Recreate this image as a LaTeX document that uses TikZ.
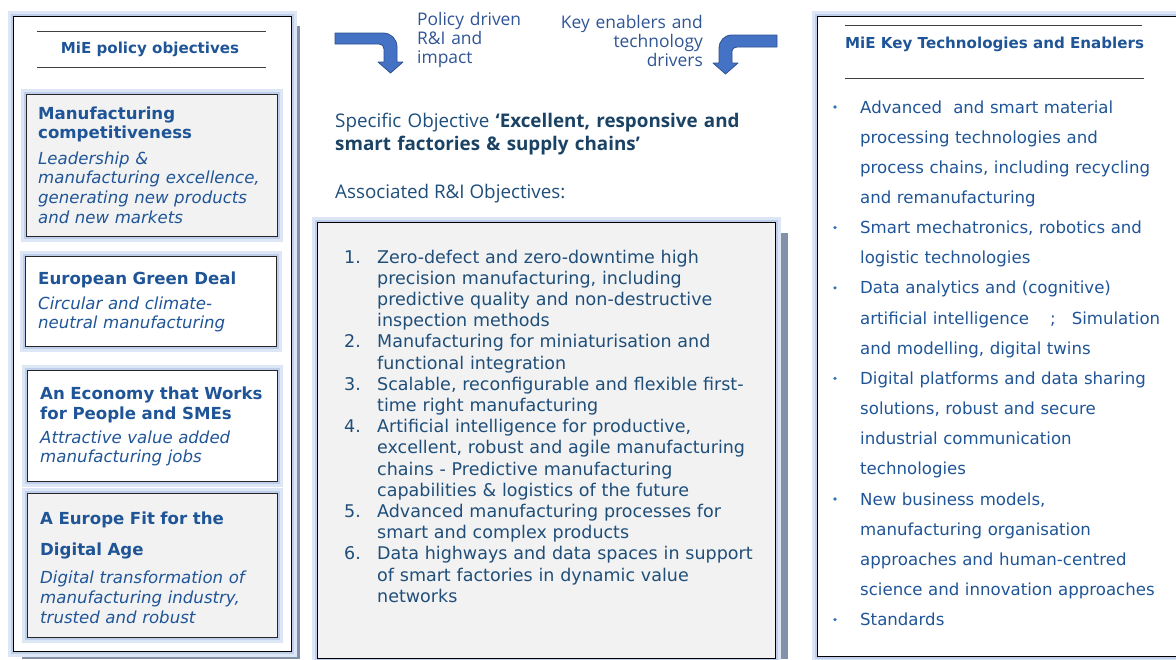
\documentclass[tikz,border=0pt]{standalone}
\usepackage{fontspec}
\setmainfont{DejaVu Sans}
\newfontfamily\segoe{Open Sans}
\definecolor{vblue}{HTML}{1F5597}
\definecolor{cteal}{HTML}{1F4E79}
\definecolor{cbold}{HTML}{1A4264}
\definecolor{lblue}{HTML}{2F5597}
\definecolor{arrfill}{HTML}{4472C4}
\definecolor{arrline}{HTML}{2F528F}
\definecolor{boxgray}{HTML}{F2F2F2}
\definecolor{glowc}{HTML}{B4C7E7}
\definecolor{shadowc}{HTML}{8391A8}
\definecolor{bulletc}{HTML}{2E75B6}
\definecolor{rulec}{HTML}{404040}
\tikzset{
  glow/.style={preaction={draw=glowc!45, line width=11pt}, preaction={draw=glowc!85, line width=5pt}},
  panel/.style={glow, draw=black, line width=1.2pt, fill=white, inner sep=0pt, anchor=north west},
  objbox/.style={glow, draw=black!85, line width=1.1pt, inner sep=0pt, anchor=north west},
  shade/.style={fill=shadowc, draw=none},
  txt/.style={inner sep=0pt, anchor=base west, align=left},
  boxtitle/.style={txt, font=\fontsize{16.6}{19.5}\selectfont\bfseries, text=vblue, text width=245pt},
  boxsub/.style={txt, font=\fontsize{16.6}{19.8}\selectfont\itshape, text=vblue, text width=245pt},
  paneltitle/.style={inner sep=0pt, anchor=base west, font=\fontsize{15.1}{17}\selectfont\bfseries, text=vblue},
  rule/.style={draw=rulec, line width=0.8pt},
  num/.style={inner sep=0pt, anchor=base west, font=\fontsize{17.5}{21.2}\selectfont, text=cteal},
  item/.style={txt, font=\fontsize{17.5}{21.2}\selectfont, text=cteal, text width=420pt},
  ritem/.style={txt, font=\fontsize{16.6}{30.15}\selectfont, text=vblue, text width=330pt},
  bul/.style={circle, fill=bulletc, inner sep=0pt, minimum size=3.6pt},
  arrowshape/.style={fill=arrfill, draw=arrline, line width=0.8pt, line join=round},
  lbl/.style={inner sep=0pt, font=\segoe\fontsize{17.4}{19.2}\selectfont, text=lblue},
}
\begin{document}
\begin{tikzpicture}[x=1pt,y=-1pt]
\useasboundingbox (0,0) rectangle (1176,659);
\clip (0,0) rectangle (1176,659);
\fill[white] (0,0) rectangle (1176,659);

% shadows
\fill[shade] (22,26) rectangle (300,659);
\fill[shade] (327,233) rectangle (788,659);

% panels
\node[panel, minimum width=278pt, minimum height=635pt] (lp) at (13,16) {};
\node[panel, fill=boxgray, minimum width=458pt, minimum height=436pt] (cp) at (317,222) {};
\node[panel, minimum width=380pt, minimum height=640pt] (rp) at (817,16) {};

% left panel title
\coordinate (la1) at (37,31); \coordinate (lb1) at (266,31);
\coordinate (la2) at (37,67); \coordinate (lb2) at (266,67);
\draw[rule] (la1) -- (lb1);
\draw[rule] (la2) -- (lb2);
\node[paneltitle, anchor=base] (lt) at (150,53) {MiE policy objectives};

% left boxes
\node[objbox, fill=boxgray, minimum width=251pt, minimum height=142pt] (b1) at (26,94) {};
\node[boxtitle] (b1t) at (38,119) {Manufacturing\\competitiveness};
\node[boxsub] (b1s) at (38,164) {Leadership \&\\manufacturing excellence,\\generating new products\\and new markets};

\node[objbox, fill=white, minimum width=251pt, minimum height=90pt] (b2) at (25,256) {};
\node[boxtitle] (b2t) at (38,284) {European Green Deal};
\node[boxsub] (b2s) at (38,309) {Circular and climate-\\neutral manufacturing};

\node[objbox, fill=white, minimum width=250pt, minimum height=111pt] (b3) at (27,370) {};
\node[boxtitle, font=\fontsize{16.6}{20}\selectfont\bfseries] (b3t) at (40,399) {An Economy that Works\\for People and SMEs};
\node[boxsub] (b3s) at (40,443) {Attractive value added\\manufacturing jobs};

\node[objbox, fill=boxgray, minimum width=250pt, minimum height=144pt] (b4) at (27,493) {};
\node[boxtitle, font=\fontsize{16.6}{31}\selectfont\bfseries] (b4t) at (40,524) {A Europe Fit for the\\Digital Age};
\node[boxsub, font=\fontsize{16.6}{20}\selectfont\itshape] (b4s) at (40,583) {Digital transformation of\\manufacturing industry,\\trusted and robust};

% arrows
\path[arrowshape] (335,33) -- (383,33) .. controls (391,33) and (397,39) .. (397,47) -- (397,62) -- (403,62) -- (390.5,73) -- (378,62) -- (384,62) -- (384,49) .. controls (384,46) and (382,44) .. (379,44) -- (335,44) -- cycle;
\path[arrowshape] (777,35) -- (732,35) .. controls (724,35) and (719,41) .. (719,49) -- (719,63) -- (713,63) -- (725.5,74) -- (738,63) -- (732,63) -- (732,51) .. controls (732,49) and (734,47) .. (737,47) -- (777,47) -- cycle;
\node[lbl, anchor=base west, align=left, text width=130pt] (al) at (417,25) {Policy driven\\R\&I and\\impact};
\node[lbl, anchor=base east, align=right, text width=160pt] (ar) at (703,28) {Key enablers and\\technology\\drivers};

% centre heading
\node[txt, font=\segoe\fontsize{18.8}{23}\selectfont, text=cteal, text width=440pt] (spec) at (335,127)
  {Specific Objective \textcolor{cbold}{\textbf{‘Excellent, responsive and}}\\\textcolor{cbold}{\textbf{smart factories \& supply chains’}}};
\node[txt, font=\segoe\fontsize{18.8}{23}\selectfont, text=cteal] (assoc) at (335,198) {Associated R\&I Objectives:};

% centre list
\node[num] (n1) at (344,263) {1.};
\node[item] (i1) at (377,263) {Zero-defect and zero-downtime high\\precision manufacturing, including\\predictive quality and non-destructive\\inspection methods};
\node[num] (n2) at (344,347.8) {2.};
\node[item] (i2) at (377,347.8) {Manufacturing for miniaturisation and\\functional integration};
\node[num] (n3) at (344,390.2) {3.};
\node[item] (i3) at (377,390.2) {Scalable, reconfigurable and flexible first-\\time right manufacturing};
\node[num] (n4) at (344,432.6) {4.};
\node[item] (i4) at (377,432.6) {Artificial intelligence for productive,\\excellent, robust and agile manufacturing\\chains - Predictive manufacturing\\capabilities \& logistics of the future};
\node[num] (n5) at (344,517.4) {5.};
\node[item] (i5) at (377,517.4) {Advanced manufacturing processes for\\smart and complex products};
\node[num] (n6) at (344,559.8) {6.};
\node[item] (i6) at (377,559.8) {Data highways and data spaces in support\\of smart factories in dynamic value\\networks};

% right panel title
\coordinate (ra1) at (845,25); \coordinate (rb1c) at (1142,25);
\coordinate (ra2) at (845,78); \coordinate (rb2c) at (1144,78);
\draw[rule] (ra1) -- (rb1c);
\draw[rule] (ra2) -- (rb2c);
\node[paneltitle] (rt) at (845,48) {MiE Key Technologies and Enablers};

% right list
\node[bul] (r1b) at (835,107) {};
\node[ritem] (r1) at (860,113) {Advanced\ \ and smart material\\processing technologies and\\process chains, including recycling\\and remanufacturing};
\node[bul] (r2b) at (835,227.6) {};
\node[ritem] (r2) at (860,233.6) {Smart mechatronics, robotics and\\logistic technologies};
\node[bul] (r3b) at (835,287.9) {};
\node[ritem] (r3) at (860,293.9) {Data analytics and (cognitive)\\artificial intelligence\hspace{21pt};\hspace{16pt}Simulation\\and modelling, digital twins};
\node[bul] (r4b) at (835,378.4) {};
\node[ritem] (r4) at (860,384.4) {Digital platforms and data sharing\\solutions, robust and secure\\industrial communication\\technologies};
\node[bul] (r5b) at (835,499) {};
\node[ritem] (r5) at (860,505) {New business models,\\manufacturing organisation\\approaches and human-centred\\science and innovation approaches};
\node[bul] (r6b) at (835,619.6) {};
\node[ritem] (r6) at (860,625.6) {Standards};
\end{tikzpicture}
\end{document}
